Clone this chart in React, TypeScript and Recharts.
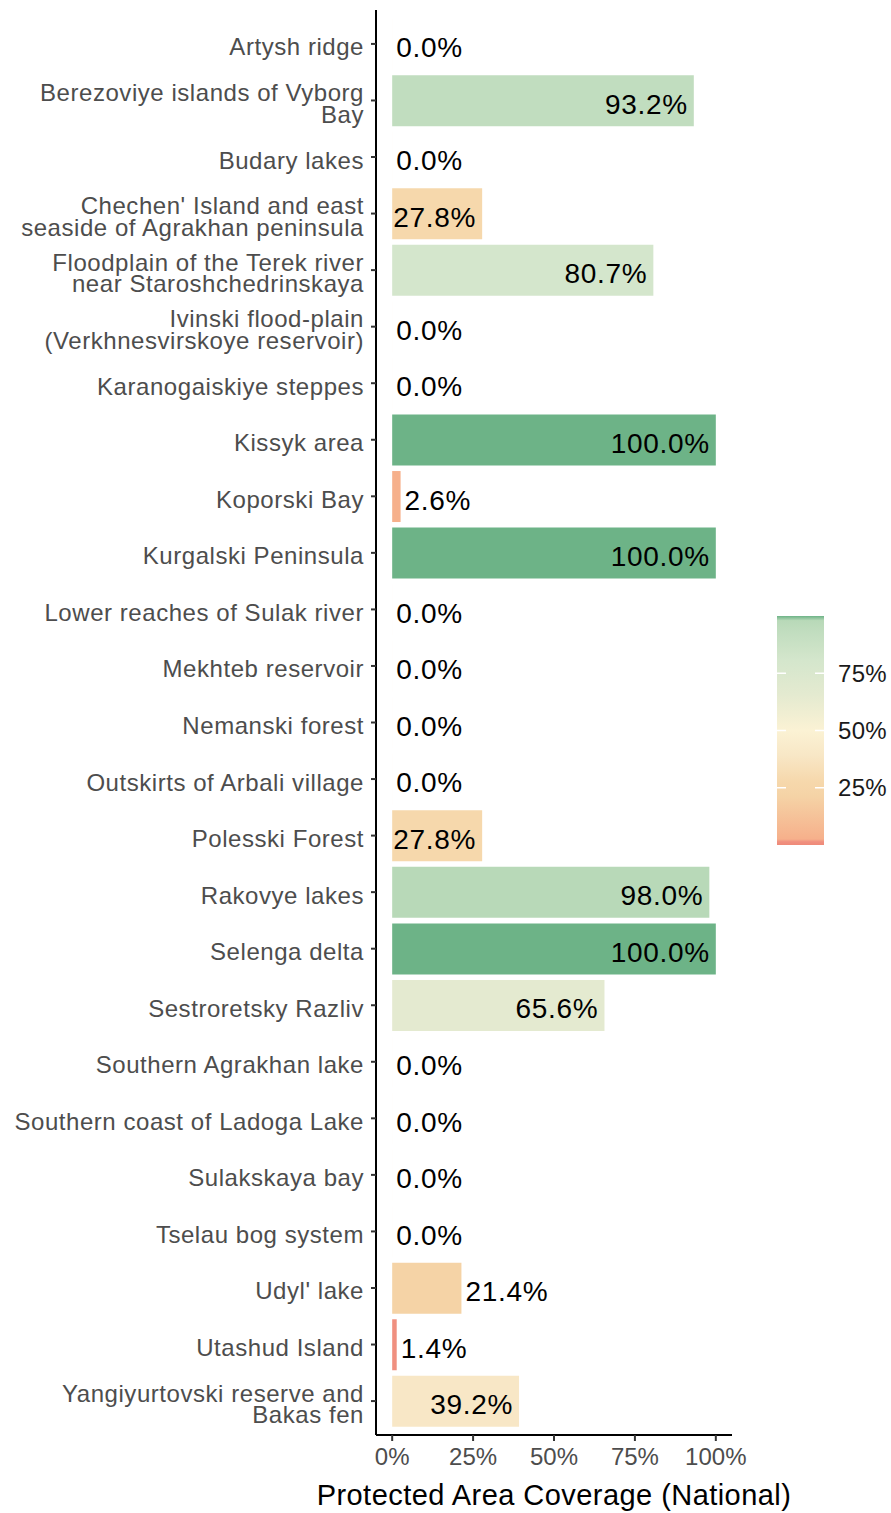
import React from "react";
import { BarChart, Bar, XAxis, YAxis, Cell, LabelList } from "recharts";

const sites = [
  "Artysh ridge",
  "Berezoviye islands of Vyborg\nBay",
  "Budary lakes",
  "Chechen' Island and east\nseaside of Agrakhan peninsula",
  "Floodplain of the Terek river\nnear Staroshchedrinskaya",
  "Ivinski flood-plain\n(Verkhnesvirskoye reservoir)",
  "Karanogaiskiye steppes",
  "Kissyk area",
  "Koporski Bay",
  "Kurgalski Peninsula",
  "Lower reaches of Sulak river",
  "Mekhteb reservoir",
  "Nemanski forest",
  "Outskirts of Arbali village",
  "Polesski Forest",
  "Rakovye lakes",
  "Selenga delta",
  "Sestroretsky Razliv",
  "Southern Agrakhan lake",
  "Southern coast of Ladoga Lake",
  "Sulakskaya bay",
  "Tselau bog system",
  "Udyl' lake",
  "Utashud Island",
  "Yangiyurtovski reserve and\nBakas fen",
];

const coverage = [
  0, 0.932, 0, 0.278, 0.807, 0, 0, 1.0, 0.026, 1.0, 0, 0, 0, 0, 0.278, 0.98,
  1.0, 0.656, 0, 0, 0, 0, 0.214, 0.014, 0.392,
];

const xTicks = [0, 0.25, 0.5, 0.75, 1];
const legendTicks = [0.25, 0.5, 0.75];

// fill scale (gradientn-like)
const stopAt = [0, 0.014, 0.026, 0.214, 0.278, 0.392, 0.5, 0.656, 0.807, 0.932, 0.98, 1];
const stopColour = [
  "#ef8a78", "#f09080", "#f6b08b", "#f5d3a6", "#f6d8ac", "#f8e7c6",
  "#fbf2d4", "#e4ead0", "#d4e6cc", "#c1ddbf", "#b8d9b8", "#6db387",
];

const data = sites.map((name, i) => ({ name, value: coverage[i] }));

const hex = (c: string) => [1, 3, 5].map((k) => parseInt(c.slice(k, k + 2), 16));

function fillFor(v: number) {
  for (let i = 1; i < stopAt.length; i++) {
    if (v <= stopAt[i]) {
      const t = (v - stopAt[i - 1]) / (stopAt[i] - stopAt[i - 1]);
      const a = hex(stopColour[i - 1]);
      const b = hex(stopColour[i]);
      const m = a.map((x, k) => Math.round(x + (b[k] - x) * t));
      return `rgb(${m[0]},${m[1]},${m[2]})`;
    }
  }
  return stopColour[stopColour.length - 1];
}

const pct1 = (v: number) => `${(v * 100).toFixed(1)}%`;
const pct0 = (v: number) => `${Math.round(v * 100)}%`;

const FONT = "'Liberation Sans', Arial, sans-serif";

function SiteTick(props: any) {
  const { x, y, payload } = props;
  const lines = String(payload.value).split("\n");
  const gap = 21.5;
  const first = y + 3 + 8.5 - ((lines.length - 1) * gap) / 2;
  return (
    <text
      x={x}
      y={first}
      textAnchor="end"
      fill="#4d4d4d"
      fontSize={24}
      letterSpacing={0.55}
      fontFamily={FONT}
    >
      {lines.map((l, i) => (
        <tspan key={i} x={x} y={first + i * gap}>
          {l}
        </tspan>
      ))}
    </text>
  );
}

function PctTick(props: any) {
  const { x, y, payload } = props;
  return (
    <text x={x} y={y + 24} textAnchor="middle" fill="#4d4d4d" fontSize={24} fontFamily={FONT}>
      {pct0(payload.value)}
    </text>
  );
}

function ValueLabel(props: any) {
  const { x, y, width, height, value } = props;
  const inside = value > 0.25;
  const end = x + width;
  return (
    <text
      x={inside ? end - 6 : end + 4}
      y={y + height / 2 + 13}
      textAnchor={inside ? "end" : "start"}
      fill="#000"
      fontSize={28}
      letterSpacing={0.7}
      fontFamily={FONT}
    >
      {pct1(value)}
    </text>
  );
}

function ColourBar() {
  const top = 16;
  const h = 229;
  const left = 7;
  const w = 47;
  const yOf = (v: number) => top + h * (1 - v);
  return (
    <svg
      width={121}
      height={260}
      style={{ position: "absolute", left: 770, top: 600 }}
    >
      <defs>
        <linearGradient id="fillScale" x1="0" y1="1" x2="0" y2="0">
          {stopAt.map((s, i) => (
            <stop key={i} offset={s} stopColor={stopColour[i]} />
          ))}
        </linearGradient>
      </defs>
      <rect x={left} y={top} width={w} height={h} fill="url(#fillScale)" />
      {legendTicks.map((t) => (
        <g key={t}>
          <line x1={left} x2={left + 9} y1={yOf(t)} y2={yOf(t)} stroke="#fff" strokeWidth={1.5} />
          <line x1={left + w - 9} x2={left + w} y1={yOf(t)} y2={yOf(t)} stroke="#fff" strokeWidth={1.5} />
          <text x={68} y={yOf(t) + 8.6} fontSize={24} letterSpacing={0.3} fill="#1a1a1a" fontFamily={FONT}>
            {pct0(t)}
          </text>
        </g>
      ))}
    </svg>
  );
}

export default function App() {
  return (
    <div style={{ position: "absolute", left: 0, top: 0, width: 891, height: 1513, background: "#fff" }}>
      <BarChart
        width={891}
        height={1513}
        data={data}
        layout="vertical"
        margin={{ top: 10, right: 159, bottom: 0, left: 0 }}
      >
        <XAxis
          type="number"
          domain={[-0.05, 1.05]}
          ticks={xTicks}
          tick={<PctTick />}
          tickSize={6}
          tickMargin={0}
          height={78}
          axisLine={{ stroke: "#000", strokeWidth: 2 }}
          tickLine={{ stroke: "#333", strokeWidth: 2 }}
          label={{
            value: "Protected Area Coverage (National)",
            position: "insideBottom",
            offset: 8,
            fill: "#000",
            fontSize: 29,
            letterSpacing: 0.45,
            fontFamily: FONT,
          }}
        />
        <YAxis
          type="category"
          dataKey="name"
          width={376}
          interval={0}
          padding={{ top: 5.65, bottom: 5.65 }}
          tick={<SiteTick />}
          tickSize={5}
          tickMargin={7}
          axisLine={{ stroke: "#000", strokeWidth: 2 }}
          tickLine={{ stroke: "#333", strokeWidth: 2 }}
        />
        <Bar dataKey="value" barSize={51} minPointSize={0.01} isAnimationActive={false}>
          {data.map((d, i) => (
            <Cell key={i} fill={fillFor(d.value)} />
          ))}
          <LabelList dataKey="value" content={<ValueLabel />} />
        </Bar>
      </BarChart>
      <ColourBar />
    </div>
  );
}
